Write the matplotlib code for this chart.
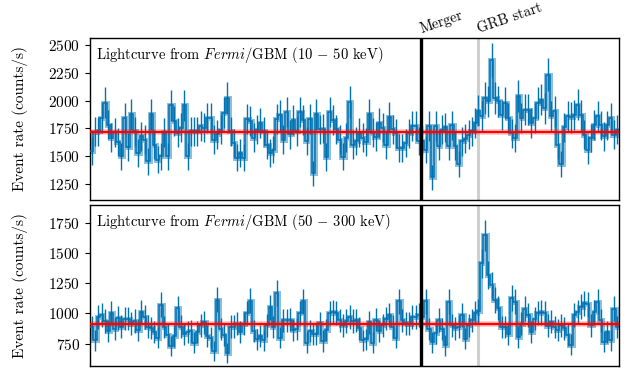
import numpy as np
import matplotlib
matplotlib.use("Agg")
import matplotlib.pyplot as plt

plt.rcParams['font.family'] = 'serif'
plt.rcParams['font.serif'] = ['cmr10', 'DejaVu Serif']
plt.rcParams['mathtext.fontset'] = 'cm'
plt.rcParams['axes.formatter.use_mathtext'] = True

# ---- data ----
t_start = -10.0        # s, start of the light curve
bin_width = 0.1        # s
merger_time = 0.0
grb_start_time = 1.74

# 10-50 keV event rate (counts/s), 160 bins
low_rate = [
    1546, 1720, 1725, 1846, 1980, 1785, 1665, 1715, 1625, 1500,
    1846, 1585, 1876, 1725, 1530, 1680, 1650, 1455, 1876, 1605,
    1470, 1500, 1715, 1500, 1957, 1816, 1710, 1756, 1957, 1500,
    1725, 1725, 1725, 1770, 1756, 1846, 1846, 1650, 1696, 1740,
    1891, 2026, 1725, 1620, 1486, 1530, 1486, 1831, 1816, 1665,
    1740, 1800, 1725,
    1605, 1530, 1560, 1837, 1867, 1650, 1897, 1696, 1825, 1725,
    1897, 1825, 1636, 1837, 1345, 1876, 1741, 1747, 1492, 1897,
    1825, 1741, 1650, 1495, 1665, 1987, 1605, 1636, 1710, 1665,
    1630, 1876, 1710, 1675, 1795, 1756, 1597, 1855, 1741, 1705,
    1576, 1576, 1620, 1705, 1770, 1776, 1636,
    1640, 1560, 1770, 1310, 1770, 1590, 1740,
    1759, 1588, 1777, 1588, 1429, 1633, 1657, 1693, 1723, 1798,
    1909, 1858, 2023, 1993, 2368, 2023, 1993, 1873, 1978, 1843,
    1708, 1663, 2038, 1843, 1918, 1918, 1798, 1843, 1978, 2008,
    1933, 2233, 1858, 1903, 1603, 1429, 1759, 1858, 1849, 1873,
    1963, 1867, 1693, 1558, 1663, 1783, 1858, 1777, 1678, 1777,
    1843, 1693, 1738,
]

# 50-300 keV event rate (counts/s), 160 bins
high_rate = [
    886, 777, 971, 986, 937, 851, 1006, 871, 963, 891,
    957, 957, 914, 937, 863, 1014, 971, 891, 880, 843,
    800, 1072, 886, 820, 728, 814, 1043, 891, 828, 843,
    857, 757, 843, 900, 928, 814, 800, 685, 1114, 871,
    820, 671, 891, 891, 914, 843, 914, 1006, 1106, 851,
    786, 814, 777, 900,
    1051, 886, 1172, 800, 943, 943, 949, 863, 871, 1006,
    1100, 757, 857, 828, 828, 920, 771, 863, 1006, 1014,
    1006, 943, 900, 937, 971, 937, 943, 877, 777, 786,
    928, 757, 949, 857, 900, 957, 986, 891, 800, 1100,
    943, 920, 914, 971, 971, 986,
    970, 1100, 870, 760, 840, 945, 870,
    736, 1097, 902, 875, 888, 986, 791, 902, 944, 1000,
    1019, 1416, 1652, 1319, 1236, 1111, 1047, 888, 888, 833,
    1130, 1097, 805, 916, 1041, 986, 847, 958, 1000, 1008,
    1000, 897, 930, 888, 861, 902, 875, 819, 741, 986,
    1014, 1055, 1083, 1075, 902, 1008, 1097, 944, 763, 847,
    777, 1041, 888,
]

low_background = 1722
high_background = 912

panel_labels = [
    r'Lightcurve from $\mathit{Fermi}$/GBM ($10\,-\,50$ keV)',
    r'Lightcurve from $\mathit{Fermi}$/GBM ($50\,-\,300$ keV)',
]
low_ticks = [1250, 1500, 1750, 2000, 2250, 2500]
high_ticks = [750, 1000, 1250, 1500, 1750]
low_ylim = (1106, 2563)
high_ylim = (563, 1902)
ylabel = 'Event rate (counts/s)'

# ---- plotting ----
blue = '#0072B2'
fig = plt.figure(figsize=(6.3, 3.7), dpi=100)
ax1 = fig.add_axes([0.14286, 0.45946, 0.83968, 0.43784])
ax2 = fig.add_axes([0.14286, 0.01081, 0.83968, 0.43514])

datasets = [
    (ax1, low_rate, low_background, low_ticks, low_ylim, panel_labels[0]),
    (ax2, high_rate, high_background, high_ticks, high_ylim, panel_labels[1]),
]

for ax, rate, bkg, ticks, ylim, label in datasets:
    rate = np.asarray(rate, dtype=float)
    n = len(rate)
    edges = t_start + bin_width * np.arange(n + 1)
    centers = 0.5 * (edges[:-1] + edges[1:])
    err = np.sqrt(rate / bin_width)

    ax.axvline(grb_start_time, color='#cfcfcf', lw=2.2, zorder=1)
    ax.stairs(rate, edges, baseline=None, color=blue, lw=3.6, alpha=0.45,
              zorder=2)
    ax.errorbar(centers, rate, yerr=err, fmt='none', ecolor=blue,
                elinewidth=1.0, zorder=3)
    ax.stairs(rate, edges, baseline=None, color=blue, lw=1.1, zorder=4)
    ax.axhline(bkg, color='red', lw=4.0, alpha=0.25, zorder=5)
    ax.axhline(bkg, color='red', lw=1.6, zorder=5)
    ax.axvline(merger_time, color='black', lw=2.4, zorder=6)

    ax.set_xlim(edges[0], edges[-1])
    ax.set_ylim(*ylim)
    ax.set_yticks(ticks)
    ax.set_xticks([])
    ax.tick_params(axis='y', direction='out', length=3.5, width=0.8,
                   labelsize=11)
    for sp in ax.spines.values():
        sp.set_linewidth(1.0)
    ax.set_ylabel(ylabel, fontsize=11)
    ax.yaxis.set_label_coords(-0.118, 0.5)
    ax.text(0.012, 0.955, label, transform=ax.transAxes, ha='left',
            va='top', fontsize=10.5)

xt = ax1.get_xaxis_transform()
ax1.text(merger_time + 0.05, 1.015, 'Merger', transform=xt, rotation=19,
         rotation_mode='anchor', ha='left', va='bottom', fontsize=10.5)
ax1.text(grb_start_time + 0.05, 1.015, 'GRB start', transform=xt, rotation=19,
         rotation_mode='anchor', ha='left', va='bottom', fontsize=10.5)

fig.savefig('out.png', dpi=100)
